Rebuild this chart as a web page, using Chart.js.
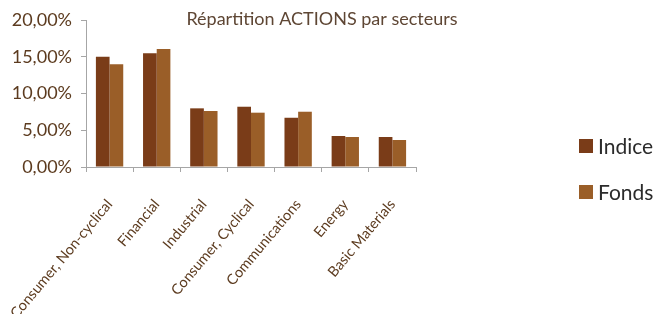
<!DOCTYPE html>
<html>
<head>
<meta charset="utf-8">
<script src="https://cdn.jsdelivr.net/npm/chart.js@4"></script>
<style>
  body { margin: 0; background: #fff; }
</style>
</head>
<body>
<canvas id="sectorChart" width="670" height="314"></canvas>
<script>
// data
const sectors = ['Consumer, Non-cyclical', 'Financial', 'Industrial', 'Consumer, Cyclical', 'Communications', 'Energy', 'Basic Materials'];
const indiceValues = [0.150, 0.1547, 0.0798, 0.0820, 0.0670, 0.0422, 0.0408];
const fondsValues = [0.1397, 0.1605, 0.0762, 0.0739, 0.0752, 0.0408, 0.0367];
const yTicks = [0, 0.05, 0.10, 0.15, 0.20];

const brownText = '#5c3b1f';
const axisColor = '#a6a6a6';

// title sits inside the plot, over the bars
const titlePlugin = {
    id: 'innerTitle',
    afterDraw(chart) {
        const ctx = chart.ctx;
        ctx.save();
        ctx.font = '18px Lato';
        ctx.fillStyle = '#5e4634';
        ctx.textAlign = 'center';
        ctx.textBaseline = 'middle';
        ctx.fillText('Répartition ACTIONS par secteurs', 322, 19);
        ctx.restore();
    }
};

// legend far on the right, like the excel one
const sideLegend = {
    id: 'sideLegend',
    afterDraw(chart) {
        const ctx = chart.ctx;
        ctx.save();
        ctx.font = '21px Lato';
        ctx.textBaseline = 'middle';
        const rows = [146, 192];
        chart.data.datasets.forEach((ds, i) => {
            ctx.fillStyle = ds.backgroundColor;
            ctx.fillRect(579, rows[i] - 7, 14, 14);
            ctx.fillStyle = '#2b2b2b';
            ctx.fillText(ds.label, 598, rows[i] + 1);
        });
        ctx.restore();
    }
};

const ctx = document.getElementById('sectorChart').getContext('2d');
new Chart(ctx, {
    type: 'bar',
    data: {
        labels: sectors,
        datasets: [
            {
                label: 'Indice',
                data: indiceValues,
                backgroundColor: '#7a3c18',
                borderWidth: 0
            },
            {
                label: 'Fonds',
                data: fondsValues,
                backgroundColor: '#9a5e28',
                borderWidth: 0
            }
        ]
    },
    options: {
        responsive: false,
        animation: false,
        layout: {
            padding: { top: 20, right: 254, bottom: 0, left: 0 }
        },
        datasets: {
            bar: {
                categoryPercentage: 0.58,
                barPercentage: 1.0
            }
        },
        scales: {
            x: {
                afterFit: (scale) => {
                    scale.height = 147;
                    // rotated labels may spill left, keep the plot where it is
                    scale.paddingLeft = 0;
                    scale.paddingRight = 0;
                },
                grid: {
                    offset: true,
                    drawOnChartArea: false,
                    tickLength: 5,
                    color: axisColor
                },
                border: { color: axisColor },
                ticks: {
                    minRotation: 50,
                    maxRotation: 50,
                    padding: 24,
                    color: brownText,
                    font: { family: 'Lato', size: 14.5 }
                }
            },
            y: {
                min: 0,
                max: 0.2,
                afterFit: (scale) => { scale.width = 86; },
                afterBuildTicks: (scale) => {
                    scale.ticks = yTicks.map(v => ({ value: v }));
                },
                grid: {
                    drawOnChartArea: false,
                    tickLength: 5,
                    color: axisColor
                },
                border: { color: axisColor },
                ticks: {
                    padding: 9,
                    color: brownText,
                    font: { family: 'Lato', size: 18 },
                    callback: (v) => (v * 100).toFixed(2).replace('.', ',') + '%'
                }
            }
        },
        plugins: {
            legend: { display: false },
            title: { display: false },
            tooltip: { enabled: false }
        }
    },
    plugins: [titlePlugin, sideLegend]
});
</script>
</body>
</html>
